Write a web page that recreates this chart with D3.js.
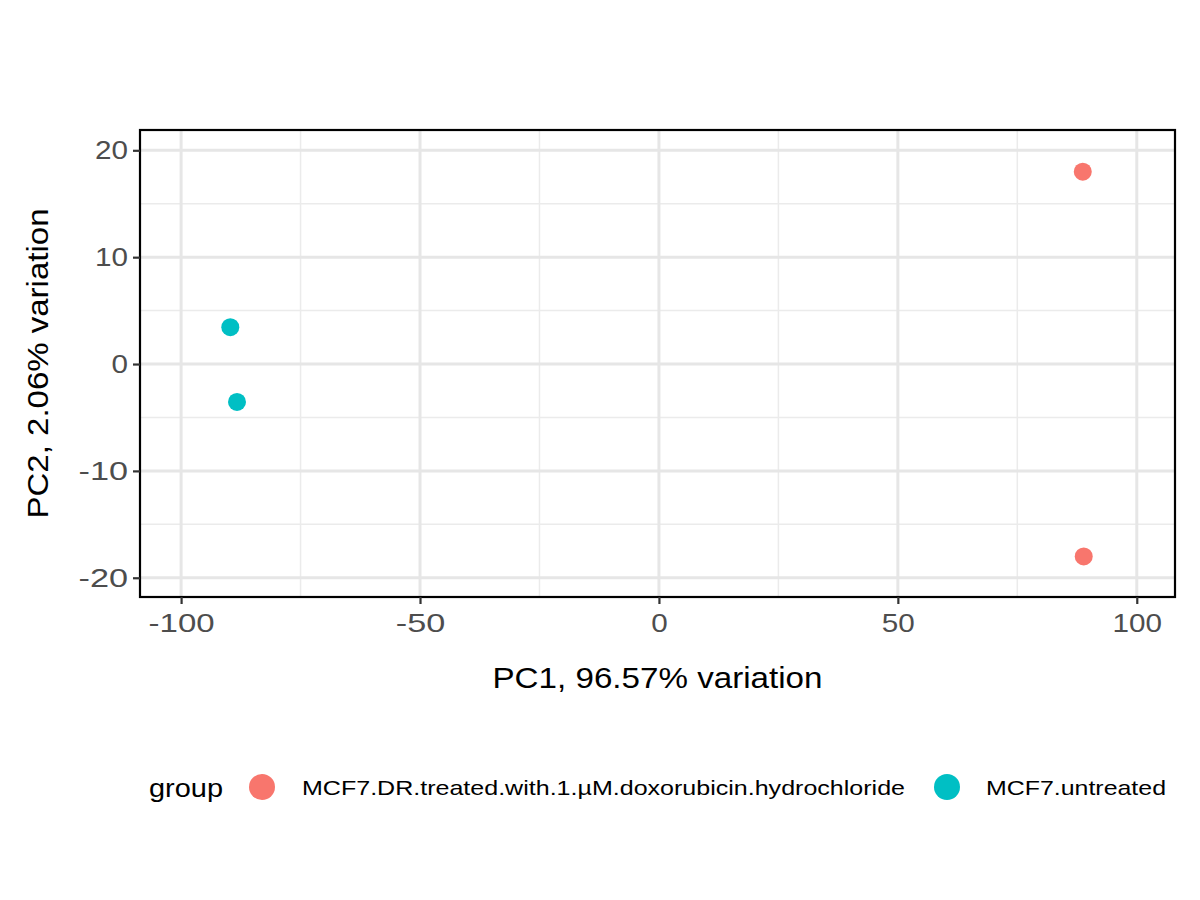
<!DOCTYPE html>
<html><head><meta charset="utf-8">
<script src="https://cdn.jsdelivr.net/npm/d3@7"></script>
<style>body{margin:0;background:#fff}text{font-family:"Liberation Sans",Arial,sans-serif}</style>
</head><body><svg id="c" width="1200" height="900"></svg>
<script>
const groups = ["MCF7.DR.treated.with.1.µM.doxorubicin.hydrochloride","MCF7.untreated"];
const colors = ["#F8766D","#00BFC4"];
const pc1 = [88.7, 88.9, -89.7, -88.3];
const pc2 = [18.0, -18.0, 3.45, -3.55];
const grp = [0, 0, 1, 1];
const xTicks = [-100,-50,0,50,100];
const yTicks = [-20,-10,0,10,20];

const svg = d3.select("#c");
const L=140,R=1175,T=130,B=597;
const x = d3.scaleLinear().domain([-108.6,108.0]).range([L,R]);
const y = d3.scaleLinear().domain([-21.8,21.9]).range([B,T]);
const g = svg.append("g");
const minorX = [-75,-25,25,75], minorY=[-15,-5,5,15];
g.selectAll(".mx").data(minorX).join("line").attr("x1",x).attr("x2",x).attr("y1",T).attr("y2",B).attr("stroke","#ebebeb").attr("stroke-width",1.5);
g.selectAll(".my").data(minorY).join("line").attr("y1",y).attr("y2",y).attr("x1",L).attr("x2",R).attr("stroke","#ebebeb").attr("stroke-width",1.5);
g.selectAll(".gx").data(xTicks).join("line").attr("x1",x).attr("x2",x).attr("y1",T).attr("y2",B).attr("stroke","#e6e6e6").attr("stroke-width",3);
g.selectAll(".gy").data(yTicks).join("line").attr("y1",y).attr("y2",y).attr("x1",L).attr("x2",R).attr("stroke","#e6e6e6").attr("stroke-width",3);
g.selectAll(".pt").data(pc1).join("circle").attr("cx",d=>x(d)).attr("cy",(d,i)=>y(pc2[i])).attr("r",9).attr("fill",(d,i)=>colors[grp[i]]);
svg.append("rect").attr("x",L).attr("y",T).attr("width",R-L).attr("height",B-T).attr("fill","none").attr("stroke","#000").attr("stroke-width",2.2);
const fmt = d => String(d);
const ax = svg.append("g").attr("transform",`translate(0,${B})`).call(d3.axisBottom(x).tickValues(xTicks).tickSize(7).tickPadding(5).tickFormat(fmt));
const ay = svg.append("g").attr("transform",`translate(${L},0)`).call(d3.axisLeft(y).tickValues(yTicks).tickSize(7).tickPadding(5).tickFormat(fmt));
[ax,ay].forEach(a=>{a.select(".domain").remove();a.selectAll("line").attr("stroke","#333").attr("stroke-width",2.2);a.selectAll("text").attr("font-size",26).attr("fill","#4d4d4d").style("font-family","Liberation Sans, Arial, sans-serif");});
ax.selectAll("text").attr("dy","0.9em").each(function(d){const s=String(d).length;d3.select(this).attr("textLength",s*16.5).attr("lengthAdjust","spacingAndGlyphs");});
ay.selectAll("text").each(function(d){const s=String(d).length;d3.select(this).attr("textLength",s*16.5).attr("lengthAdjust","spacingAndGlyphs");});
svg.append("text").attr("x",(L+R)/2).attr("y",688).attr("text-anchor","middle").attr("font-size",29).attr("textLength",330).attr("lengthAdjust","spacingAndGlyphs").text("PC1, 96.57% variation");
svg.append("text").attr("transform",`translate(48,${(T+B)/2}) rotate(-90)`).attr("text-anchor","middle").attr("font-size",29).attr("textLength",310).attr("lengthAdjust","spacingAndGlyphs").text("PC2, 2.06% variation");
const lg = svg.append("g");
lg.append("text").attr("x",149).attr("y",797).attr("font-size",26).attr("textLength",74).attr("lengthAdjust","spacingAndGlyphs").text("group");
const lx=[262,947], tx=[302,986], tl=[603,180];
groups.forEach((gname,i)=>{
  lg.append("circle").attr("cx",lx[i]).attr("cy",787).attr("r",13).attr("fill",colors[i]);
  lg.append("text").attr("x",tx[i]).attr("y",795).attr("font-size",21).attr("textLength",tl[i]).attr("lengthAdjust","spacingAndGlyphs").text(gname);
});
</script></body></html>
